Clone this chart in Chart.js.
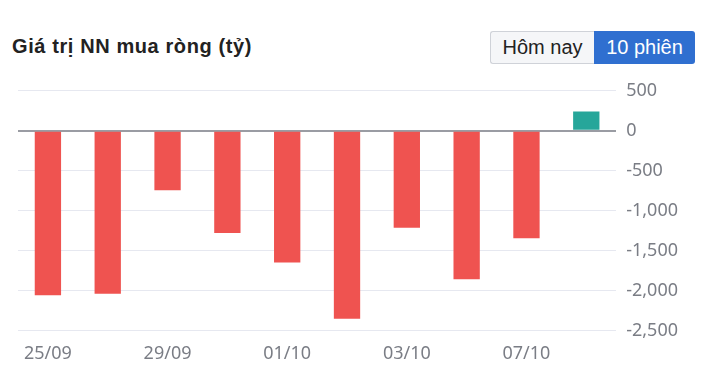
<!DOCTYPE html>
<html>
<head>
<meta charset="utf-8">
<script src="https://cdn.jsdelivr.net/npm/chart.js@4"></script>
<style>
  body { margin: 0; background: #fff; width: 712px; height: 383px; overflow: hidden; position: relative; font-family: "Liberation Sans", Arial, sans-serif; }
  .title { position: absolute; left: 12px; top: 35px; font-size: 20px; font-weight: bold; color: #222; letter-spacing: 0.6px; }
  .tabs { position: absolute; left: 490px; top: 31px; display: flex; }
  .tabs div { height: 33px; line-height: 33px; font-size: 20px; box-sizing: border-box; text-align: center; }
  .tabs .off { background: #f5f6f8; color: #222; border: 1px solid #cfd2d8; border-right: none; border-radius: 3px 0 0 3px; width: 104px; line-height: 31px; }
  .tabs .on { background: #2f6fd0; color: #fff; border-radius: 0 3px 3px 0; width: 101px; }
  #wrap { position: absolute; left: 0; top: 70px; width: 712px; height: 300px; }
</style>
</head>
<body>
<div class="title">Giá trị NN mua ròng (tỷ)</div>
<div class="tabs"><div class="off">Hôm nay</div><div class="on">10 phiên</div></div>
<div id="wrap"><canvas id="myChart"></canvas></div>
<script>
// sessions and net foreign buy values (billion VND)
const labels = ["25/09", "26/09", "29/09", "30/09", "01/10", "02/10", "03/10", "06/10", "07/10", "08/10"];
const netValues = [-2060, -2040, -745, -1280, -1650, -2355, -1215, -1860, -1345, 240];
const yTicks = [500, 0, -500, -1000, -1500, -2000, -2500];

const barColors = netValues.map(v => v < 0 ? '#ef5350' : '#26a69a');

const ctx = document.getElementById('myChart').getContext('2d');
const chart = new Chart(ctx, {
    type: 'bar',
    data: {
        labels: labels,
        datasets: [{
            data: netValues,
            backgroundColor: barColors,
            barPercentage: 0.44,
            categoryPercentage: 1
        }]
    },
    options: {
        responsive: true,
        maintainAspectRatio: false,
        animation: false,
        layout: { padding: { left: 18, right: 24, top: 1, bottom: 0 } },
        plugins: {
            legend: { display: false },
            tooltip: { enabled: false }
        },
        scales: {
            x: {
                grid: { display: false },
                border: { display: false },
                ticks: {
                    autoSkip: false,
                    maxRotation: 0,
                    padding: 5,
                    color: '#7a7d85',
                    font: { family: 'Noto Sans', size: 18 },
                    callback: function (val, i) { return i % 2 === 0 ? labels[i] : ''; }
                }
            },
            y: {
                position: 'right',
                min: yTicks[yTicks.length - 1],
                max: yTicks[0],
                border: { display: false },
                grid: {
                    drawTicks: false,
                    color: c => c.tick && c.tick.value === 0 ? '#9a9ca3' : '#e6e8f0',
                    lineWidth: c => c.tick && c.tick.value === 0 ? 2 : 1
                },
                ticks: {
                    stepSize: 500,
                    padding: 10,
                    color: '#7a7d85',
                    font: { family: 'Noto Sans', size: 18 }
                }
            }
        }
    }
});
</script>
</body>
</html>
